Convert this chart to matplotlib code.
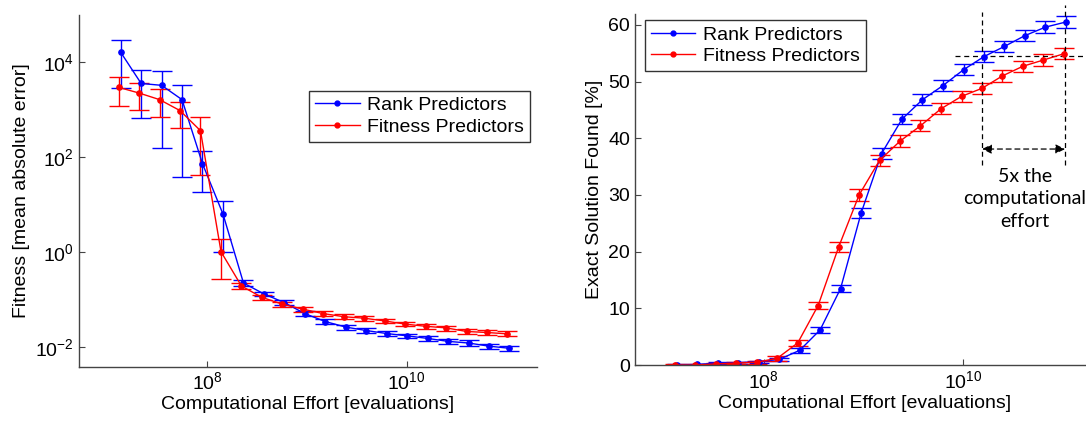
"""Rank vs fitness predictors: fitness error and exact-solution rate
against computational effort (two log-x panels)."""

import matplotlib
matplotlib.use("Agg")
import matplotlib.pyplot as plt
from matplotlib.lines import Line2D
from matplotlib.ticker import FixedLocator, LogFormatterMathtext, NullLocator

plt.rcParams["font.family"] = ["Liberation Sans", "DejaVu Sans"]
plt.rcParams["mathtext.fontset"] = "custom"
plt.rcParams["mathtext.rm"] = "Liberation Sans"
plt.rcParams["mathtext.it"] = "Liberation Sans"

# computational effort [evaluations]
effort = [1.35e7, 2.17e7, 3.48e7, 5.58e7, 8.95e7, 1.44e8, 2.31e8, 3.70e8,
          5.94e8, 9.54e8, 1.53e9, 2.46e9, 3.94e9, 6.33e9, 1.02e10, 1.63e10,
          2.62e10, 4.20e10, 6.75e10, 1.08e11]

# fitness (mean absolute error), value / lower / upper bound
rank_fit = [1.6e4, 3.5e3, 3.2e3, 1.6e3, 72, 6.2, 0.22, 0.13, 0.085, 0.05,
            0.034, 0.026, 0.022, 0.019, 0.017, 0.015, 0.013, 0.012, 0.0103, 0.0093]
rank_fit_lo = [2.8e3, 650, 155, 38, 18, 1.0, 0.19, 0.115, 0.075, 0.044,
               0.030, 0.023, 0.0195, 0.017, 0.015, 0.0133, 0.0115, 0.0106, 0.0091, 0.0082]
rank_fit_hi = [2.95e4, 6.8e3, 6.3e3, 3.2e3, 130, 11.7, 0.26, 0.145, 0.095, 0.056,
               0.038, 0.029, 0.025, 0.021, 0.019, 0.017, 0.0147, 0.0136, 0.0116, 0.0105]
fitp_fit = [2.9e3, 2.2e3, 1.6e3, 940, 355, 1.0, 0.19, 0.11, 0.079, 0.062,
            0.050, 0.043, 0.040, 0.035, 0.030, 0.027, 0.025, 0.021, 0.020, 0.0187]
fitp_fit_lo = [1.17e3, 950, 680, 410, 41, 0.27, 0.165, 0.097, 0.070, 0.055,
               0.044, 0.038, 0.035, 0.031, 0.027, 0.024, 0.022, 0.0187, 0.0178, 0.0166]
fitp_fit_hi = [4.8e3, 3.6e3, 2.7e3, 1.45e3, 690, 1.9, 0.22, 0.125, 0.089, 0.070,
               0.056, 0.048, 0.045, 0.039, 0.034, 0.030, 0.028, 0.0236, 0.0225, 0.021]

# exact solution found [%], value and half error
rank_exact = [0.0, 0.1, 0.35, 0.4, 0.6, 1.0, 2.6, 6.2, 13.5, 26.8,
              37.3, 43.4, 46.8, 49.3, 52.1, 54.4, 56.2, 58.1, 59.6, 60.5]
rank_exact_err = [0.1, 0.1, 0.2, 0.2, 0.2, 0.3, 0.4, 0.5, 0.6, 0.9,
                  0.9, 0.95, 1.0, 1.0, 1.0, 1.0, 1.0, 1.0, 1.0, 1.0]
fitp_exact = [0.0, 0.0, 0.2, 0.35, 0.5, 1.2, 3.9, 10.5, 20.8, 30.0,
              36.1, 39.5, 42.2, 45.2, 47.4, 48.8, 51.0, 52.7, 53.8, 54.9]
fitp_exact_err = [0.1, 0.1, 0.2, 0.2, 0.3, 0.4, 0.5, 0.7, 0.9, 1.0,
                  1.0, 1.0, 1.0, 1.0, 1.0, 1.0, 1.0, 1.0, 1.0, 1.0]

labels = ["Rank Predictors", "Fitness Predictors"]
colors = ["#0000ff", "#ff0000"]
RED_SHIFT = 0.955  # the red series sits a hair left of the blue one
SPINE = "#444444"
FS = 14


def style_axes(ax):
    for side in ("top", "right"):
        ax.spines[side].set_visible(False)
    for side in ("left", "bottom"):
        ax.spines[side].set_color(SPINE)
        ax.spines[side].set_linewidth(1.0)
    ax.tick_params(direction="in", length=4, width=0.8, colors=SPINE,
                   labelcolor="black", labelsize=FS)
    ax.set_xscale("log")
    ax.set_xlim(10 ** 6.71, 10 ** 11.31)
    ax.xaxis.set_major_locator(FixedLocator([1e8, 1e10]))
    ax.xaxis.set_major_formatter(LogFormatterMathtext())
    ax.xaxis.set_minor_locator(NullLocator())
    ax.set_xlabel("Computational Effort [evaluations]", fontsize=FS, labelpad=2)


def draw_series(ax, x, y, yerr, color, label):
    ax.errorbar(x, y, yerr=yerr, color=color, lw=1.0, elinewidth=1.0,
                capsize=7.5, capthick=1.0, marker="o", ms=3.8, label=label)


def add_legend(ax, anchor):
    handles = [Line2D([], [], color=c, lw=1.0, marker="o", ms=3.5)
               for c in colors]
    leg = ax.legend(handles, labels, loc="upper right", bbox_to_anchor=anchor,
                    fontsize=FS, frameon=True, fancybox=False,
                    handlelength=2.3, handletextpad=0.4, borderpad=0.3,
                    labelspacing=0.2, borderaxespad=0)
    leg.get_frame().set_edgecolor("black")
    leg.get_frame().set_linewidth(1.0)


def main():
    fig = plt.figure(figsize=(10.86, 4.23), dpi=100)
    ax1 = fig.add_axes([0.0725, 0.133, 0.422, 0.832])
    ax2 = fig.add_axes([0.5847, 0.137, 0.422, 0.831])

    red_x = [e * RED_SHIFT for e in effort]

    # left: fitness
    style_axes(ax1)
    ax1.set_yscale("log")
    draw_series(ax1, effort, rank_fit,
                [[v - lo for v, lo in zip(rank_fit, rank_fit_lo)],
                 [hi - v for v, hi in zip(rank_fit, rank_fit_hi)]],
                colors[0], labels[0])
    draw_series(ax1, red_x, fitp_fit,
                [[v - lo for v, lo in zip(fitp_fit, fitp_fit_lo)],
                 [hi - v for v, hi in zip(fitp_fit, fitp_fit_hi)]],
                colors[1], labels[1])
    ax1.set_ylim(10 ** -2.42, 10 ** 4.99)
    ax1.yaxis.set_major_locator(FixedLocator([1e-2, 1, 1e2, 1e4]))
    ax1.yaxis.set_major_formatter(LogFormatterMathtext())
    ax1.yaxis.set_minor_locator(NullLocator())
    ax1.set_ylabel("Fitness [mean absolute error]", fontsize=FS, labelpad=4)
    add_legend(ax1, (0.985, 0.784))

    # right: exact solution rate
    style_axes(ax2)
    draw_series(ax2, effort, rank_exact, rank_exact_err, colors[0], labels[0])
    draw_series(ax2, red_x, fitp_exact, fitp_exact_err, colors[1], labels[1])
    ax2.set_ylim(0, 62)
    ax2.set_yticks(range(0, 61, 10))
    ax2.set_ylabel("Exact Solution Found [%]", fontsize=FS, labelpad=4)
    add_legend(ax2, (0.504, 0.981))

    # 5x annotation between the two curves' 54.5 % crossings
    x_a, x_b = effort[15] * 0.96, effort[19] * 0.985
    dash = dict(color="black", lw=0.9, ls=(0, (4, 3)))
    ax2.plot([x_a, x_a], [35.3, 62.2], clip_on=False, **dash)
    ax2.plot([x_b, x_b], [35.3, 63.5], clip_on=False, **dash)
    ax2.plot([8.3e9, 2.0e11], [54.5, 54.5], clip_on=False, **dash)
    ax2.annotate("", xy=(x_a, 38.1), xytext=(x_b, 38.1),
                 arrowprops=dict(arrowstyle="<|-|>", color="black", lw=0.9,
                                 ls=(0, (4, 3)), mutation_scale=14,
                                 shrinkA=0, shrinkB=0))
    ax2.text(4.2e10, 34.8, "5x the\ncomputational\neffort", ha="center",
             va="top", fontsize=14, family=["Lato", "DejaVu Sans"],
             linespacing=1.4)

    fig.savefig("out.png", dpi=100)
    plt.close(fig)


if __name__ == "__main__":
    main()
